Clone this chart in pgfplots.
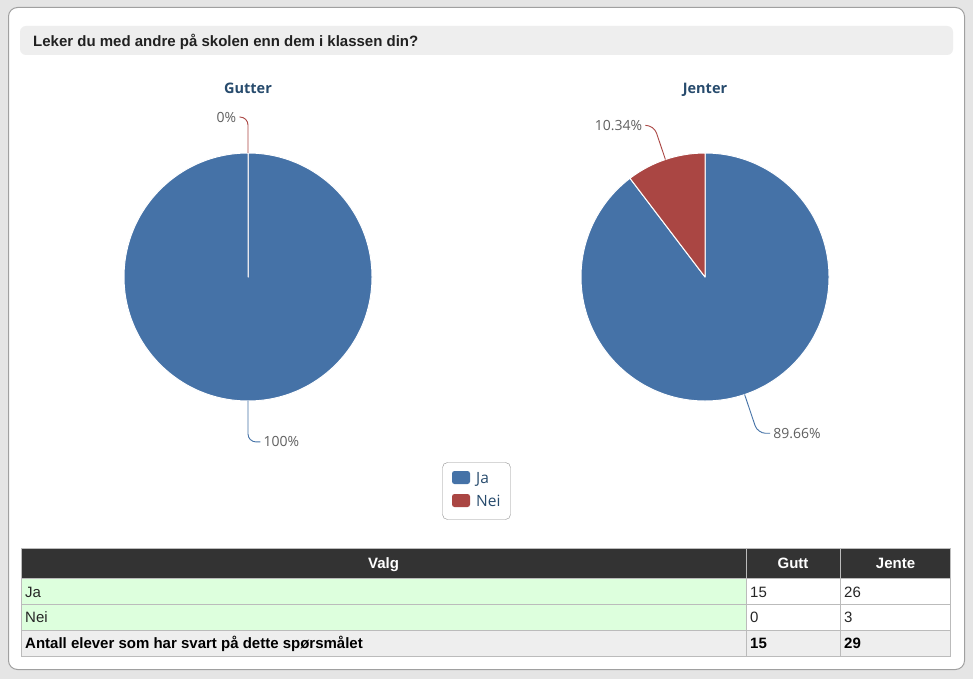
\documentclass[border=0pt]{standalone}
\usepackage{pgfplots}
\pgfplotsset{compat=1.18}
\usepackage{pgfplotstable}
\usepackage{fontspec}
\setmainfont{Liberation Sans}
\newfontfamily\hcfont{Open Sans}
\definecolor{hcblue}{HTML}{4572A7}
\definecolor{hcred}{HTML}{AA4643}
\definecolor{hctitle}{HTML}{274B6D}
\definecolor{outerbg}{HTML}{E5E5E5}
\definecolor{panelborder}{HTML}{A0A0A0}
\definecolor{titlebar}{HTML}{EEEEEE}
\definecolor{hdr}{HTML}{333333}
\definecolor{rowgreen}{HTML}{DDFFDD}
\definecolor{rowgray}{HTML}{EEEEEE}
\definecolor{gridc}{HTML}{BBBBBB}
\definecolor{lbl}{HTML}{606060}
\definecolor{legborder}{HTML}{909090}

\pgfplotstableread{
group ja nei
Gutter 15 0
Jenter 26 3
}\counts

\newcommand\drawpie[4]{%
  \pgfplotstablegetelem{#1}{ja}\of\counts \edef\vJa{\pgfplotsretval}%
  \pgfplotstablegetelem{#1}{nei}\of\counts \edef\vNei{\pgfplotsretval}%
  \pgfmathsetmacro\vTot{\vJa+\vNei}%
  \pgfmathsetmacro\aJ{90-360*\vJa/\vTot}%
  \pgfmathsetmacro\mJ{90-180*\vJa/\vTot}%
  \pgfmathsetmacro\mN{(\aJ-270)/2}%
  \pgfmathsetmacro\pJ{100*\vJa/\vTot}%
  \pgfmathsetmacro\pN{100*\vNei/\vTot}%
  \node[anchor=base, font=\hcfont\bfseries\fontsize{14.5}{16}\selectfont, text=hctitle] at (#2pt,-93.5pt) {#4};
  \begin{axis}[at={(#2pt,-#3pt)}, anchor=origin, x=124pt, y=124pt,
      xmin=-1.5, xmax=1.5, ymin=-1.5, ymax=1.5, hide axis, clip=false]
    \filldraw[fill=hcblue, draw=white, line width=1pt, line join=round]
      (axis cs:0,0) -- (axis cs:{cos(90)},{sin(90)}) arc[start angle=90, end angle=\aJ, radius=124pt] -- cycle;
    \filldraw[fill=hcred, draw=white, line width=1pt, line join=round]
      (axis cs:0,0) -- (axis cs:{cos(\aJ)},{sin(\aJ)}) arc[start angle=\aJ, end angle=-270, radius=124pt] -- cycle;
    \draw[hcblue, line width=0.9pt, rounded corners=8pt]
      (axis cs:{cos(\mJ)},{sin(\mJ)}) -- (axis cs:{1.33*cos(\mJ)},{1.33*sin(\mJ)}) -- (axis cs:{1.33*cos(\mJ)+0.1},{1.33*sin(\mJ)});
    \node[anchor=west, inner sep=3pt, text=lbl, font=\hcfont\fontsize{14}{16}\selectfont]
      at (axis cs:{1.33*cos(\mJ)+0.1},{1.33*sin(\mJ)})
      {\pgfmathprintnumber[fixed,precision=2,assume math mode=true]{\pJ}\%};
    \draw[hcred, line width=0.9pt, rounded corners=8pt]
      (axis cs:{cos(\mN)},{sin(\mN)}) -- (axis cs:{1.29*cos(\mN)},{1.29*sin(\mN)}) -- (axis cs:{1.29*cos(\mN)-0.07},{1.29*sin(\mN)});
    \node[anchor=east, inner sep=3pt, text=lbl, font=\hcfont\fontsize{14}{16}\selectfont]
      at (axis cs:{1.29*cos(\mN)-0.07},{1.29*sin(\mN)})
      {\pgfmathprintnumber[fixed,precision=2,assume math mode=true]{\pN}\%};
  \end{axis}%
}

\begin{document}
\begin{tikzpicture}
\begin{scope}[x=1pt,y=-1pt]
\fill[outerbg] (0,0) rectangle (973,679);
\draw[panelborder, fill=white, rounded corners=9pt, line width=1pt] (8.5,7.5) rectangle (964.5,669.5);
\fill[titlebar, rounded corners=6pt] (20,26) rectangle (953,55);
\node[anchor=base west, inner sep=0pt, font=\bfseries\fontsize{15}{17}\selectfont, text=black!87] at (33,46.5) {Leker du med andre på skolen enn dem i klassen din?};
\end{scope}

\drawpie{0}{248}{277}{Gutter}
\drawpie{1}{705}{277}{Jenter}

\begin{scope}[x=1pt,y=-1pt]
% legend
\draw[legborder, fill=white, rounded corners=5pt] (442.5,462.5) rectangle (510.5,519.5);
\fill[hcblue, rounded corners=2.5pt] (452,471) rectangle (470,484);
\fill[hcred, rounded corners=2.5pt] (452,494) rectangle (470,507);
\node[anchor=base west, inner sep=0pt, text=hctitle, font=\hcfont\fontsize{15.5}{17}\selectfont] at (476,483.5) {Ja};
\node[anchor=base west, inner sep=0pt, text=hctitle, font=\hcfont\fontsize{15.5}{17}\selectfont] at (476,506.5) {Nei};

% table
\pgfplotstablegetelem{0}{ja}\of\counts \edef\gJa{\pgfplotsretval}
\pgfplotstablegetelem{0}{nei}\of\counts \edef\gNei{\pgfplotsretval}
\pgfplotstablegetelem{1}{ja}\of\counts \edef\jJa{\pgfplotsretval}
\pgfplotstablegetelem{1}{nei}\of\counts \edef\jNei{\pgfplotsretval}
\pgfmathtruncatemacro\gTot{\gJa+\gNei}
\pgfmathtruncatemacro\jTot{\jJa+\jNei}
\fill[hdr] (21,548) rectangle (951,578);
\fill[rowgreen] (21,578) rectangle (746,630);
\fill[white] (746,578) rectangle (951,630);
\fill[rowgray] (21,630) rectangle (951,656);
\draw[gridc] (21,604.5) -- (951,604.5) (21,630.5) -- (951,630.5) (21,578.5) -- (951,578.5);
\draw[gridc] (746.5,548) -- (746.5,656) (840.5,548) -- (840.5,656);
\draw[gridc] (21.5,548.5) rectangle (950.5,656.5);
\begin{scope}[every node/.style={inner sep=0pt, font=\fontsize{15}{17}\selectfont}]
\node[anchor=base, text=white, font=\bfseries\fontsize{15}{17}\selectfont] at (383.5,568.5) {Valg};
\node[anchor=base, text=white, font=\bfseries\fontsize{15}{17}\selectfont] at (793,568.5) {Gutt};
\node[anchor=base, text=white, font=\bfseries\fontsize{15}{17}\selectfont] at (895.5,568.5) {Jente};
\node[anchor=base west, text=black!85] at (25,597) {Ja};
\node[anchor=base west, text=black!85] at (25,622.5) {Nei};
\node[anchor=base west, text=black!85] at (750,597) {\gJa};
\node[anchor=base west, text=black!85] at (844,597) {\jJa};
\node[anchor=base west, text=black!85] at (750,622.5) {\gNei};
\node[anchor=base west, text=black!85] at (844,622.5) {\jNei};
\node[anchor=base west, text=black, font=\bfseries\fontsize{15}{17}\selectfont] at (25,648.5) {Antall elever som har svart på dette spørsmålet};
\node[anchor=base west, text=black, font=\bfseries\fontsize{15}{17}\selectfont] at (750,648.5) {\gTot};
\node[anchor=base west, text=black, font=\bfseries\fontsize{15}{17}\selectfont] at (844,648.5) {\jTot};
\end{scope}
\end{scope}
\pgfresetboundingbox
\useasboundingbox (0,0) rectangle (973pt,-679pt);
\end{tikzpicture}
\end{document}
